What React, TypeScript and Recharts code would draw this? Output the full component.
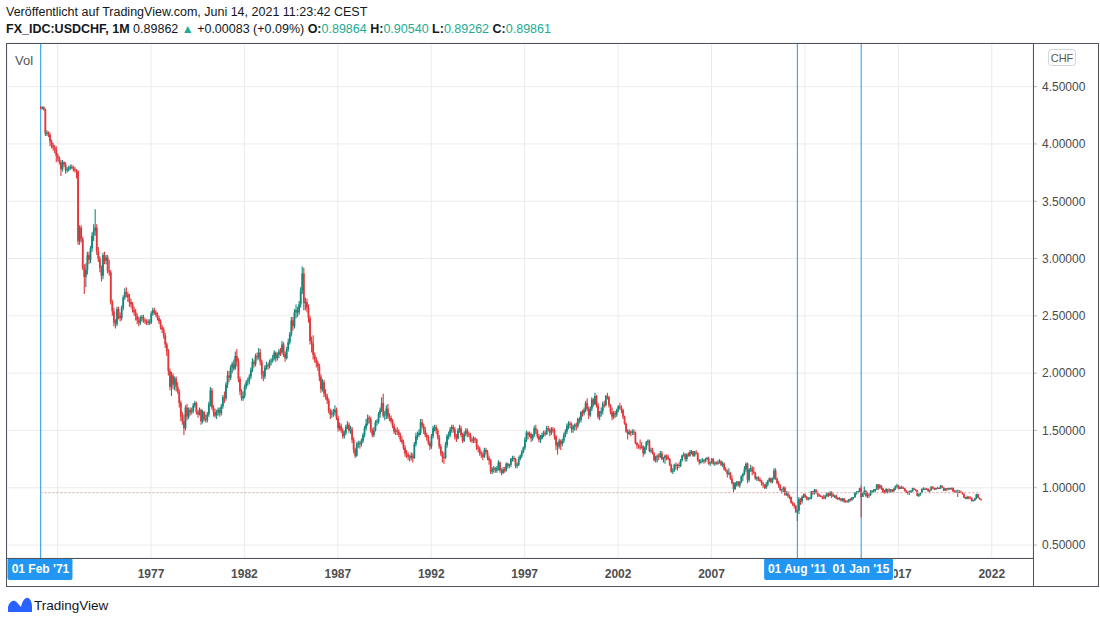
import React from "react";
import { ComposedChart, Bar, XAxis, YAxis, CartesianGrid, ReferenceLine } from "recharts";

// ---- data: monthly USDCHF candles, [high, low, close]; open = previous close ----
const firstOpen = 4.32; // open of Feb 1971
const firstBarYear = 1971;
const firstBarMonth = 2;

const bars1970s: number[][] = [
  [4.33,4.30,4.31],[4.33,4.30,4.32],[4.33,4.29,4.30],[4.31,4.07,4.09],[4.12,4.07,4.10],[4.11,4.06,4.08],[4.10,3.98,4.02],[4.04,3.96,3.99],[4.01,3.94,3.97],[3.99,3.92,3.95],[3.98,3.84,3.90],
  [3.92,3.85,3.88],[3.89,3.82,3.84],[3.86,3.72,3.78],[3.86,3.76,3.84],[3.85,3.80,3.82],[3.84,3.74,3.77],[3.80,3.75,3.78],[3.81,3.76,3.79],[3.82,3.77,3.80],[3.82,3.78,3.79],[3.81,3.76,3.78],[3.80,3.75,3.77],
  [3.78,3.70,3.76],[3.77,3.12,3.15],[3.29,3.12,3.27],[3.29,3.14,3.17],[3.19,2.90,2.92],[2.95,2.69,2.84],[2.96,2.75,2.90],[3.06,2.86,3.03],[3.06,2.95,2.99],[3.11,2.96,3.09],[3.23,3.06,3.20],[3.30,3.15,3.24],
  [3.43,3.20,3.27],[3.30,3.03,3.06],[3.10,2.97,3.00],[3.02,2.88,2.92],[2.94,2.80,2.85],[3.05,2.82,3.03],[3.06,2.95,2.98],[3.03,2.95,3.01],[3.03,2.87,2.89],[2.99,2.85,2.88],[2.90,2.60,2.62],[2.64,2.50,2.54],
  [2.57,2.41,2.44],[2.47,2.39,2.43],[2.58,2.41,2.56],[2.58,2.47,2.50],[2.53,2.45,2.48],[2.59,2.46,2.57],[2.68,2.55,2.66],[2.74,2.64,2.71],[2.75,2.66,2.69],[2.71,2.62,2.66],[2.69,2.58,2.62],[2.65,2.57,2.60],
  [2.62,2.53,2.55],[2.58,2.50,2.53],[2.56,2.46,2.50],[2.52,2.43,2.46],[2.49,2.41,2.44],[2.50,2.42,2.48],[2.51,2.45,2.49],[2.51,2.44,2.46],[2.48,2.43,2.45],[2.47,2.42,2.44],[2.47,2.42,2.45],[2.47,2.42,2.44],
  [2.54,2.43,2.52],[2.57,2.50,2.55],[2.57,2.51,2.53],[2.55,2.49,2.51],[2.53,2.46,2.48],[2.50,2.43,2.45],[2.47,2.38,2.40],[2.42,2.35,2.38],[2.40,2.30,2.33],[2.35,2.22,2.25],[2.27,2.15,2.19],[2.21,1.98,2.02],
  [2.04,1.85,1.88],[2.01,1.80,1.98],[2.00,1.86,1.90],[1.97,1.85,1.95],[1.97,1.84,1.88],[1.92,1.82,1.84],[1.86,1.70,1.74],[1.76,1.58,1.62],[1.66,1.55,1.58],[1.64,1.46,1.52],[1.72,1.50,1.70],[1.73,1.59,1.62],
  [1.70,1.60,1.68],[1.70,1.63,1.66],[1.70,1.64,1.67],[1.74,1.65,1.72],[1.76,1.70,1.74],[1.75,1.64,1.66],[1.68,1.61,1.64],[1.70,1.63,1.68],[1.69,1.55,1.58],[1.68,1.56,1.66],[1.67,1.58,1.60],[1.64,1.57,1.59],
];

const bars1980s: number[][] = [
  [1.66,1.57,1.64],[1.75,1.62,1.73],[1.88,1.71,1.85],[1.87,1.68,1.70],[1.72,1.62,1.66],[1.69,1.61,1.63],[1.68,1.60,1.66],[1.70,1.63,1.68],[1.70,1.62,1.65],[1.73,1.63,1.71],[1.81,1.69,1.79],[1.84,1.74,1.78],
  [1.92,1.76,1.90],[2.02,1.87,1.98],[2.02,1.92,1.96],[2.07,1.94,2.05],[2.10,2.00,2.08],[2.12,2.02,2.04],[2.19,2.03,2.15],[2.21,2.06,2.10],[2.13,1.92,1.95],[1.97,1.81,1.84],[1.86,1.76,1.78],[1.84,1.76,1.80],
  [1.90,1.78,1.88],[1.94,1.86,1.92],[1.96,1.89,1.93],[1.99,1.90,1.97],[2.05,1.95,2.03],[2.13,2.01,2.10],[2.12,2.05,2.08],[2.17,2.06,2.15],[2.18,2.11,2.14],[2.22,2.12,2.18],[2.21,2.07,2.10],[2.12,1.95,1.99],
  [2.02,1.93,1.97],[2.07,1.95,2.05],[2.10,2.03,2.07],[2.09,2.03,2.06],[2.12,2.04,2.10],[2.13,2.07,2.11],[2.16,2.09,2.13],[2.20,2.11,2.18],[2.19,2.10,2.13],[2.18,2.11,2.16],[2.21,2.13,2.19],[2.22,2.15,2.18],
  [2.28,2.16,2.25],[2.27,2.14,2.17],[2.19,2.10,2.13],[2.23,2.12,2.21],[2.30,2.19,2.27],[2.36,2.25,2.34],[2.49,2.32,2.46],[2.49,2.37,2.41],[2.56,2.39,2.53],[2.60,2.48,2.55],[2.58,2.49,2.53],[2.63,2.51,2.60],
  [2.75,2.57,2.72],[2.93,2.69,2.87],[2.92,2.55,2.61],[2.66,2.55,2.62],[2.65,2.53,2.57],[2.60,2.44,2.48],[2.50,2.25,2.28],[2.32,2.18,2.26],[2.33,2.12,2.16],[2.18,2.09,2.12],[2.14,2.05,2.09],[2.11,2.02,2.06],
  [2.08,1.93,1.97],[1.99,1.83,1.86],[1.95,1.84,1.92],[1.94,1.79,1.82],[1.86,1.77,1.80],[1.82,1.73,1.76],[1.78,1.65,1.67],[1.69,1.60,1.64],[1.68,1.61,1.65],[1.69,1.62,1.66],[1.72,1.63,1.68],[1.70,1.59,1.61],
  [1.63,1.49,1.52],[1.57,1.50,1.54],[1.56,1.48,1.50],[1.52,1.43,1.45],[1.50,1.43,1.48],[1.55,1.46,1.53],[1.58,1.51,1.55],[1.57,1.48,1.50],[1.54,1.47,1.51],[1.53,1.39,1.42],[1.44,1.30,1.33],[1.35,1.26,1.28],
  [1.40,1.27,1.38],[1.41,1.35,1.39],[1.41,1.34,1.38],[1.43,1.36,1.41],[1.48,1.39,1.46],[1.54,1.44,1.52],[1.60,1.50,1.56],[1.64,1.54,1.61],[1.63,1.56,1.60],[1.62,1.48,1.50],[1.52,1.44,1.46],[1.53,1.44,1.50],
  [1.59,1.49,1.57],[1.60,1.54,1.58],[1.66,1.56,1.64],[1.70,1.61,1.68],[1.79,1.66,1.74],[1.82,1.61,1.63],[1.67,1.59,1.64],[1.72,1.60,1.69],[1.73,1.60,1.62],[1.65,1.58,1.61],[1.63,1.56,1.58],[1.60,1.52,1.54],
];

const bars1990s: number[][] = [
  [1.56,1.47,1.49],[1.52,1.46,1.50],[1.53,1.46,1.49],[1.51,1.44,1.46],[1.48,1.40,1.42],[1.45,1.38,1.40],[1.42,1.33,1.35],[1.37,1.27,1.30],[1.33,1.26,1.29],[1.31,1.24,1.27],[1.29,1.23,1.26],[1.31,1.24,1.28],
  [1.30,1.22,1.26],[1.40,1.25,1.38],[1.48,1.36,1.45],[1.49,1.42,1.46],[1.51,1.44,1.48],[1.60,1.46,1.57],[1.60,1.52,1.54],[1.56,1.47,1.50],[1.53,1.44,1.46],[1.48,1.41,1.44],[1.46,1.37,1.39],[1.41,1.33,1.36],
  [1.47,1.34,1.45],[1.54,1.43,1.52],[1.55,1.49,1.53],[1.55,1.47,1.50],[1.52,1.42,1.44],[1.46,1.34,1.36],[1.38,1.28,1.30],[1.32,1.22,1.27],[1.31,1.21,1.26],[1.40,1.25,1.37],[1.47,1.35,1.45],[1.49,1.42,1.46],
  [1.53,1.44,1.51],[1.55,1.48,1.53],[1.55,1.48,1.51],[1.53,1.42,1.44],[1.47,1.40,1.43],[1.52,1.42,1.50],[1.55,1.48,1.52],[1.54,1.44,1.46],[1.48,1.39,1.41],[1.49,1.40,1.47],[1.52,1.45,1.50],[1.52,1.44,1.47],
  [1.49,1.44,1.46],[1.48,1.40,1.42],[1.44,1.39,1.41],[1.45,1.39,1.43],[1.44,1.39,1.42],[1.43,1.33,1.35],[1.37,1.31,1.34],[1.36,1.28,1.30],[1.32,1.26,1.29],[1.31,1.24,1.27],[1.35,1.26,1.33],[1.35,1.29,1.31],
  [1.33,1.24,1.26],[1.28,1.20,1.24],[1.25,1.12,1.14],[1.18,1.12,1.16],[1.19,1.13,1.17],[1.18,1.13,1.15],[1.19,1.13,1.17],[1.24,1.15,1.22],[1.23,1.13,1.15],[1.17,1.11,1.13],[1.18,1.12,1.16],[1.18,1.13,1.15],
  [1.22,1.14,1.21],[1.22,1.17,1.19],[1.21,1.17,1.20],[1.26,1.18,1.25],[1.28,1.23,1.26],[1.28,1.23,1.25],[1.26,1.17,1.19],[1.22,1.17,1.20],[1.27,1.19,1.25],[1.29,1.24,1.28],[1.33,1.26,1.31],[1.36,1.30,1.35],
  [1.44,1.33,1.42],[1.50,1.40,1.48],[1.49,1.42,1.46],[1.49,1.44,1.47],[1.48,1.40,1.43],[1.47,1.41,1.46],[1.54,1.44,1.52],[1.55,1.47,1.50],[1.51,1.43,1.45],[1.47,1.40,1.42],[1.46,1.39,1.43],[1.48,1.42,1.46],
  [1.50,1.44,1.48],[1.50,1.45,1.47],[1.54,1.46,1.52],[1.54,1.49,1.51],[1.52,1.45,1.48],[1.53,1.46,1.51],[1.53,1.48,1.50],[1.52,1.42,1.45],[1.46,1.33,1.37],[1.40,1.29,1.36],[1.43,1.34,1.41],[1.42,1.33,1.38],
  [1.43,1.36,1.41],[1.48,1.39,1.46],[1.51,1.44,1.49],[1.56,1.47,1.54],[1.58,1.51,1.56],[1.58,1.52,1.55],[1.57,1.48,1.51],[1.55,1.48,1.53],[1.56,1.50,1.55],[1.57,1.50,1.54],[1.61,1.52,1.60],[1.62,1.56,1.59],
];

const bars2000s: number[][] = [
  [1.67,1.57,1.66],[1.68,1.62,1.65],[1.70,1.63,1.68],[1.76,1.66,1.74],[1.78,1.67,1.69],[1.71,1.60,1.63],[1.71,1.62,1.69],[1.79,1.67,1.77],[1.78,1.71,1.73],[1.83,1.72,1.80],[1.81,1.70,1.72],[1.74,1.60,1.62],
  [1.67,1.59,1.65],[1.70,1.62,1.67],[1.75,1.64,1.73],[1.76,1.70,1.72],[1.81,1.71,1.80],[1.83,1.77,1.79],[1.80,1.70,1.72],[1.73,1.64,1.66],[1.70,1.59,1.62],[1.67,1.60,1.65],[1.67,1.61,1.64],[1.69,1.62,1.68],
  [1.72,1.66,1.71],[1.74,1.68,1.70],[1.72,1.65,1.68],[1.69,1.60,1.62],[1.63,1.55,1.56],[1.57,1.48,1.49],[1.51,1.42,1.47],[1.51,1.46,1.49],[1.50,1.45,1.48],[1.51,1.46,1.49],[1.51,1.46,1.48],[1.49,1.38,1.39],
  [1.40,1.34,1.37],[1.38,1.34,1.36],[1.42,1.33,1.35],[1.40,1.34,1.36],[1.37,1.27,1.30],[1.36,1.29,1.35],[1.41,1.33,1.40],[1.42,1.37,1.41],[1.42,1.31,1.32],[1.35,1.30,1.33],[1.35,1.29,1.30],[1.31,1.23,1.24],
  [1.28,1.22,1.27],[1.29,1.22,1.28],[1.30,1.24,1.27],[1.32,1.26,1.30],[1.32,1.24,1.25],[1.27,1.22,1.26],[1.29,1.21,1.28],[1.29,1.24,1.27],[1.29,1.24,1.25],[1.26,1.19,1.20],[1.21,1.13,1.14],[1.17,1.12,1.15],
  [1.21,1.14,1.20],[1.22,1.16,1.19],[1.21,1.15,1.20],[1.22,1.17,1.19],[1.25,1.18,1.24],[1.29,1.23,1.28],[1.31,1.27,1.29],[1.30,1.23,1.25],[1.30,1.23,1.29],[1.31,1.27,1.28],[1.33,1.27,1.31],[1.33,1.29,1.32],
  [1.32,1.27,1.28],[1.32,1.27,1.31],[1.33,1.29,1.30],[1.31,1.23,1.24],[1.25,1.20,1.22],[1.25,1.21,1.23],[1.26,1.22,1.24],[1.25,1.21,1.23],[1.26,1.22,1.25],[1.27,1.24,1.26],[1.27,1.20,1.21],[1.23,1.19,1.22],
  [1.26,1.21,1.25],[1.26,1.20,1.21],[1.23,1.19,1.22],[1.23,1.20,1.21],[1.24,1.20,1.22],[1.25,1.21,1.23],[1.24,1.19,1.20],[1.23,1.18,1.21],[1.22,1.15,1.16],[1.18,1.14,1.15],[1.16,1.09,1.12],[1.17,1.11,1.13],
  [1.14,1.07,1.08],[1.11,1.03,1.04],[1.05,0.96,0.99],[1.05,0.98,1.04],[1.06,1.01,1.05],[1.06,1.01,1.02],[1.06,1.00,1.05],[1.11,1.04,1.10],[1.13,1.06,1.12],[1.19,1.11,1.16],[1.22,1.14,1.21],[1.22,1.04,1.07],
  [1.17,1.05,1.16],[1.20,1.14,1.17],[1.19,1.11,1.14],[1.18,1.12,1.13],[1.14,1.07,1.08],[1.10,1.06,1.09],[1.10,1.06,1.07],[1.09,1.05,1.06],[1.07,1.02,1.04],[1.05,1.00,1.03],[1.03,0.99,1.00],[1.05,0.99,1.03],
];

const bars2010s: number[][] = [
  [1.07,1.01,1.06],[1.09,1.05,1.08],[1.09,1.04,1.05],[1.09,1.04,1.08],[1.17,1.07,1.15],[1.17,1.07,1.08],[1.09,1.03,1.04],[1.06,1.00,1.02],[1.03,0.97,0.98],[0.99,0.95,0.99],[1.01,0.96,1.00],[1.01,0.93,0.94],
  [0.97,0.93,0.95],[0.97,0.91,0.93],[0.94,0.90,0.92],[0.92,0.86,0.87],[0.88,0.84,0.86],[0.87,0.82,0.84],[0.85,0.78,0.79],[0.81,0.71,0.80],[0.92,0.77,0.90],[0.91,0.85,0.88],[0.93,0.86,0.92],[0.95,0.91,0.94],
  [0.95,0.91,0.92],[0.93,0.89,0.90],[0.92,0.89,0.90],[0.92,0.90,0.91],[0.97,0.90,0.97],[0.97,0.94,0.95],[0.99,0.94,0.98],[0.99,0.95,0.96],[0.97,0.92,0.94],[0.95,0.92,0.93],[0.94,0.92,0.925],[0.93,0.90,0.915],
  [0.94,0.90,0.91],[0.94,0.90,0.93],[0.96,0.92,0.95],[0.96,0.92,0.93],[0.97,0.93,0.96],[0.97,0.91,0.94],[0.95,0.92,0.925],[0.94,0.91,0.93],[0.94,0.90,0.905],[0.92,0.89,0.91],[0.92,0.89,0.905],[0.91,0.88,0.89],
  [0.91,0.88,0.905],[0.91,0.87,0.88],[0.89,0.87,0.885],[0.89,0.87,0.88],[0.90,0.87,0.90],[0.91,0.88,0.89],[0.92,0.89,0.91],[0.92,0.90,0.92],[0.96,0.91,0.955],[0.97,0.94,0.965],[0.97,0.95,0.97],[1.00,0.96,0.995],
  [1.02,0.74,0.92],[0.96,0.92,0.95],[1.01,0.94,0.97],[0.98,0.92,0.93],[0.96,0.91,0.94],[0.95,0.91,0.935],[0.98,0.93,0.965],[0.98,0.95,0.97],[0.99,0.96,0.975],[0.99,0.96,0.99],[1.03,0.98,1.03],[1.03,0.98,1.00],
  [1.03,0.99,1.02],[1.02,0.98,0.995],[1.00,0.955,0.96],[0.98,0.95,0.958],[0.995,0.955,0.99],[0.99,0.95,0.975],[0.995,0.965,0.97],[0.99,0.955,0.985],[0.99,0.96,0.97],[1.00,0.965,0.99],[1.02,0.98,1.015],[1.035,1.00,1.02],
  [1.025,0.985,0.99],[1.01,0.99,1.005],[1.02,0.99,1.00],[1.01,0.99,0.995],[1.00,0.97,0.97],[0.98,0.955,0.96],[0.97,0.94,0.965],[0.975,0.94,0.96],[0.98,0.955,0.97],[1.00,0.965,0.995],[1.00,0.98,0.985],[0.99,0.97,0.975],
  [0.98,0.925,0.93],[0.95,0.92,0.945],[0.96,0.93,0.955],[0.995,0.95,0.99],[1.005,0.98,0.985],[1.00,0.98,0.99],[1.00,0.985,0.988],[0.995,0.965,0.97],[0.985,0.955,0.98],[1.01,0.975,1.01],[1.01,0.99,1.00],[1.00,0.98,0.985],
  [1.00,0.98,0.995],[1.01,0.99,0.998],[1.005,0.99,0.995],[1.023,0.99,1.018],[1.02,1.00,1.002],[1.005,0.97,0.975],[0.995,0.975,0.995],[0.995,0.97,0.99],[1.00,0.98,0.998],[1.00,0.98,0.986],[1.00,0.985,1.00],[1.00,0.966,0.968],
];

const bars2020s: number[][] = [
  [0.98,0.96,0.962],[0.98,0.96,0.965],[0.985,0.92,0.962],[0.98,0.96,0.963],[0.975,0.955,0.962],[0.965,0.94,0.947],[0.95,0.91,0.912],[0.92,0.90,0.903],[0.93,0.90,0.921],[0.925,0.90,0.916],[0.925,0.90,0.911],[0.915,0.88,0.885],
  [0.895,0.88,0.891],[0.913,0.885,0.907],[0.948,0.90,0.944],[0.945,0.91,0.912],[0.915,0.897,0.89864],[0.9054,0.89262,0.89861],
];

const priceTicks = [0.5, 1, 1.5, 2, 2.5, 3, 3.5, 4, 4.5];
const gridYears = [1972, 1977, 1982, 1987, 1992, 1997, 2002, 2007, 2012, 2017, 2022];
const coveredYears = [1972, 2012]; // fully hidden behind the date tags
const partlyCovered: Record<number, number> = { 2017: 894 }; // visible only right of this x
const dateMarkers = [
  { year: 1971, month: 2, label: "01 Feb '71" },
  { year: 2011, month: 8, label: "01 Aug '11" },
  { year: 2015, month: 1, label: "01 Jan '15" },
];
const priceLineValue = 0.957;
const yDomain = [0.387, 4.881];
const slotsBefore = 21;
const slotsAfter = 33;

// ---- build table ----
const allBars = [...bars1970s, ...bars1980s, ...bars1990s, ...bars2000s, ...bars2010s, ...bars2020s];
const monthIndex = (year: number, month: number) => (year - firstBarYear) * 12 + (month - firstBarMonth);
const markerIndexes = dateMarkers.map((m) => monthIndex(m.year, m.month));

type Row = { i: number; o?: number; h?: number; l?: number; c?: number };
const rows: Row[] = [];
for (let i = -slotsBefore; i < allBars.length + slotsAfter; i++) {
  if (i >= 0 && i < allBars.length) {
    const [h, l, c] = allBars[i];
    const o = i === 0 ? firstOpen : allBars[i - 1][2];
    rows.push({ i, o, h, l, c });
  } else {
    rows.push({ i });
  }
}
const lastIndex = allBars.length - 1;
const xTicks = gridYears.map((y) => monthIndex(y, 1));

const UP = "#12897a";
const DOWN = "#e2363b";
const BLUE = "#2196f3";
const FONT = "'Liberation Sans', Arial, sans-serif";

const Candle = (props: any) => {
  const { x, y, width, height, payload } = props;
  if (!payload || payload.h == null) return null;
  const top = Math.min(y, y + height);
  const bottom = Math.max(y, y + height);
  const span = payload.h - payload.l;
  const k = span > 0 ? (bottom - top) / span : 0;
  const py = (v: number) => top + (payload.h - v) * k;
  const up = payload.c >= payload.o;
  const color = up ? UP : DOWN;
  const cx = x + width / 2;
  const yo = py(payload.o);
  const yc = py(payload.c);
  const bt = Math.min(yo, yc);
  const bh = Math.max(Math.abs(yo - yc), 1);
  const isMarker = markerIndexes.includes(payload.i);
  return (
    <g>
      {isMarker && (
        <line x1={cx} x2={cx} y1={py(yDomain[1])} y2={py(yDomain[0])} stroke={BLUE} strokeWidth={1} />
      )}
      <line x1={cx} x2={cx} y1={top} y2={bottom} stroke={color} strokeWidth={1.1} />
      <rect x={cx - 0.9} y={bt} width={1.8} height={bh} fill={color} />
    </g>
  );
};

const XTick = (props: any) => {
  const { x, y, payload } = props;
  const year = firstBarYear + Math.floor((payload.value + firstBarMonth - 1) / 12);
  if (coveredYears.includes(year)) return null;
  const clipFrom = partlyCovered[year];
  const clipId = "tick-clip-" + year;
  return (
    <g>
      {clipFrom != null && (
        <defs>
          <clipPath id={clipId}>
            <rect x={clipFrom} y={y} width={200} height={30} />
          </clipPath>
        </defs>
      )}
      <text
        x={x}
        y={y + 18}
        textAnchor="middle"
        fontSize={12}
        fontWeight="bold"
        fill="#4f4f4f"
        fontFamily={FONT}
        clipPath={clipFrom != null ? `url(#${clipId})` : undefined}
      >
        {year}
      </text>
    </g>
  );
};

const DateTag = (props: any) => {
  const { viewBox, text } = props;
  if (!viewBox) return null;
  const cx = viewBox.x;
  const by = viewBox.y + viewBox.height;
  return (
    <g>
      <rect x={cx - 33} y={by} width={65} height={22} rx={2} fill={BLUE} />
      <text x={cx} y={by + 15} textAnchor="middle" fontSize={12} fontWeight="bold" fill="#ffffff" fontFamily={FONT}>
        {text}
      </text>
    </g>
  );
};

const teal = { color: "#22ab94" };

export default function App() {
  return (
    <div style={{ position: "absolute", left: 0, top: 0, width: 1100, height: 623, background: "#fff", fontFamily: FONT, overflow: "hidden" }}>
      <div style={{ position: "absolute", left: 6, top: 4, fontSize: 12.5, lineHeight: "16px", color: "#131722", whiteSpace: "nowrap" }}>
        Veröffentlicht auf TradingView.com, Juni 14, 2021 11:23:42 CEST
      </div>
      <div style={{ position: "absolute", left: 6, top: 21, fontSize: 12.5, lineHeight: "16px", color: "#131722", whiteSpace: "nowrap" }}>
        <b>FX_IDC:USDCHF, 1M</b> 0.89862 <span style={{ ...teal, fontSize: 12 }}>▲</span> +0.00083 (+0.09%) <b>O:</b>
        <span style={teal}>0.89864</span> <b>H:</b><span style={teal}>0.90540</span> <b>L:</b>
        <span style={teal}>0.89262</span> <b>C:</b><span style={teal}>0.89861</span>
      </div>

      <ComposedChart
        width={1100}
        height={623}
        data={rows}
        margin={{ top: 43, right: 2, bottom: 37, left: 7 }}
        barCategoryGap={0}
        barGap={0}
        style={{ position: "absolute", left: 0, top: 0 }}
      >
        <CartesianGrid stroke="#ebebeb" vertical={true} horizontal={true} />
        <XAxis
          dataKey="i"
          type="category"
          ticks={xTicks}
          interval={0}
          tick={<XTick />}
          tickLine={false}
          axisLine={false}
          tickSize={0}
          height={28}
        />
        <YAxis
          orientation="right"
          type="number"
          domain={yDomain}
          allowDataOverflow
          ticks={priceTicks}
          tickFormatter={(v: number) => v.toFixed(5)}
          tick={{ fill: "#4a4a4a", fontSize: 12, fontFamily: FONT }}
          tickLine={{ stroke: "#b8b8b8" }}
          tickSize={4}
          tickMargin={5}
          axisLine={false}
          width={65}
        />
        <ReferenceLine
          segment={[{ x: 0, y: priceLineValue }, { x: lastIndex, y: priceLineValue }]}
          stroke="#d9a0a0"
          strokeDasharray="2 2"
        />
        <Bar
          dataKey={(d: Row) => (d.h == null ? null : [d.l, d.h])}
          shape={<Candle />}
          isAnimationActive={false}
        />
        {dateMarkers.map((m) => (
          <ReferenceLine
            key={"tag-" + m.label}
            x={monthIndex(m.year, m.month)}
            stroke="none"
            label={<DateTag text={m.label} />}
          />
        ))}
      </ComposedChart>

      <svg width={1100} height={623} style={{ position: "absolute", left: 0, top: 0, pointerEvents: "none" }}>
        <rect x={6.5} y={43.5} width={1092} height={543} fill="none" stroke="#50535e" strokeWidth={1} />
        <line x1={1033.5} x2={1033.5} y1={43.5} y2={586.5} stroke="#50535e" strokeWidth={1} />
        <line x1={6.5} x2={1033.5} y1={558.5} y2={558.5} stroke="#50535e" strokeWidth={1} />
        <text x={15} y={65} fontSize={13} fill="#555" fontFamily={FONT}>Vol</text>
        <rect x={1048.5} y={49.5} width={27} height={16} rx={3} fill="#fff" stroke="#d1d4dc" />
        <text x={1062} y={61.5} fontSize={11} fill="#555" textAnchor="middle" fontFamily={FONT}>CHF</text>
        <path d="M8 612 L8 607 C9 603 12 600 15 601 C17 602 19 605 21 607 C22 602 25 597 28 598 C31 599 32 603 32 607 L32 612 Z" fill="#2962ff" />
        <text x={34} y={610} fontSize={13.5} fill="#131722" fontFamily={FONT}>TradingView</text>
      </svg>
    </div>
  );
}
